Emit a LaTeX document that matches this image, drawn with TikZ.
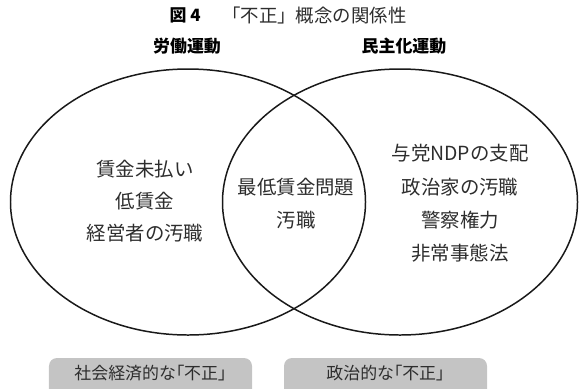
\documentclass[tikz,border=0pt]{standalone}
\usepackage{fontspec}
\newfontfamily\jp{Noto Sans CJK JP}
\newfontfamily\jpp{Noto Sans CJK JP}[RawFeature=+palt]
\usetikzlibrary{shapes.geometric}
\definecolor{txt}{RGB}{45,45,45}
\definecolor{boxgray}{RGB}{196,196,196}
\tikzset{
  venn/.style={draw=black!90, line width=1.5pt, ellipse, inner sep=0pt, minimum width=355bp, minimum height=266bp},
  item/.style={font=\jp\fontsize{19.5}{19.5}\selectfont, text=txt, inner sep=0pt},
  head/.style={font=\jp\bfseries\fontsize{17}{17}\selectfont, text=black, inner sep=0pt},
  cat/.style={draw=none, fill=boxgray, rounded corners=8bp, minimum width=203bp, minimum height=50bp, inner sep=0pt},
  cattext/.style={font=\jpp\fontsize{17}{17}\selectfont, text=txt, inner sep=0pt}
}
\begin{document}
\begin{tikzpicture}[x=1bp, y=-1bp]
\useasboundingbox (0,0) rectangle (579,388);
\clip (0,0) rectangle (579,388);
% title
\node[head, anchor=east] (fig) at (201,15) {図 4};
\node[font=\jp\fontsize{18.5}{18.5}\selectfont, text=txt, inner sep=0pt, anchor=west] (title) at (222,15) {「不正」概念の関係性};
% headings
\node[head] (hl) at (187,46) {労働運動};
\node[head] (hr) at (404,46) {民主化運動};
% ellipses
\node[venn] (L) at (188,202) {};
\node[venn] (R) at (400,202) {};
% left items
\node[item] (l1) at (145,169) {賃金未払い};
\node[item] (l2) at (145,201) {低賃金};
\node[item] (l3) at (145,233) {経営者の汚職};
% middle
\node[item] (m1) at (296,187) {最低賃金問題};
\node[item] (m2) at (296,220) {汚職};
% right
\node[item] (r1) at (460,153) {与党NDPの支配};
\node[item] (r2) at (460,187) {政治家の汚職};
\node[item] (r3) at (460,220) {警察権力};
\node[item] (r4) at (460,253) {非常事態法};
% category boxes
\node[cat] (cl) at (150.5,383) {};
\node[cat] (cr) at (385.5,383) {};
\node[cattext] (clt) at (150.5,373) {社会経済的な「不正」};
\node[cattext] (crt) at (385.5,373) {政治的な「不正」};
\end{tikzpicture}
\end{document}
